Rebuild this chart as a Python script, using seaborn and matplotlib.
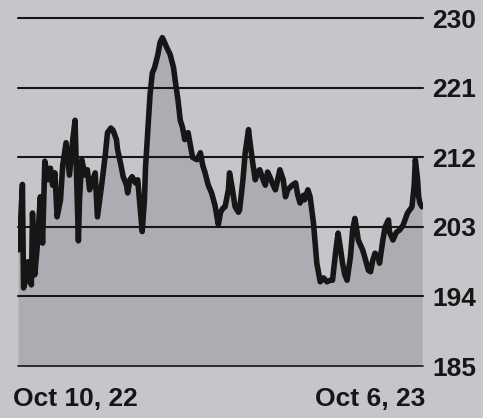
import numpy as np
import pandas as pd
import matplotlib
matplotlib.use("Agg")
import matplotlib.pyplot as plt
import matplotlib.transforms as mtransforms
import seaborn as sns

start_date = "2022-10-10"
day_offsets = [0, 2, 4, 5, 7, 9, 12, 13, 15, 17, 20, 22, 24, 27, 29, 31, 33, 35, 38, 40,
               43, 46, 49, 51, 54, 55, 57, 60, 62, 64, 67, 69, 71, 75, 78, 80, 83, 85, 88, 89,
               92, 94, 97, 98, 100, 102, 105, 107, 109, 111, 113, 114, 116, 118, 120, 122, 125, 127, 129, 130,
               133, 136, 139, 141, 143, 145, 147, 149, 152, 154, 156, 160, 163, 165, 167, 170, 173, 176, 179, 181,
               183, 185, 188, 189, 191, 194, 197, 198, 201, 203, 206, 207, 210, 212, 214, 216, 219, 221, 223, 225,
               228, 230, 232, 234, 237, 239, 241, 245, 248, 250, 252, 255, 256, 259, 261, 264, 267, 270, 273, 276,
               279, 281, 284, 286, 288, 290, 292, 294, 297, 299, 301, 303, 304, 307, 308, 311, 313, 315, 317, 319,
               322, 323, 326, 328, 331, 332, 335, 338, 341, 344, 348, 350, 352, 354, 355, 357, 358, 359, 361]
prices = [200.0, 202.6, 208.5, 195.1, 196.1, 198.5, 195.5, 204.8, 196.8, 200.0,
          206.9, 200.9, 211.5, 209.1, 210.6, 208.4, 210.0, 204.3, 206.5, 211.0,
          213.9, 209.7, 214.3, 216.8, 201.2, 206.5, 211.7, 209.7, 210.4, 207.8,
          209.1, 210.0, 204.3, 208.7, 212.3, 215.2, 215.8, 215.5, 214.3, 213.0,
          211.0, 209.5, 208.4, 207.4, 209.1, 209.5, 208.7, 209.1, 205.8, 202.4,
          206.5, 210.8, 215.5, 220.1, 222.9, 223.6, 225.3, 226.9, 227.5, 227.2,
          226.2, 225.3, 223.6, 221.4, 219.4, 216.8, 215.9, 214.3, 215.2, 213.6,
          212.0, 211.7, 212.6, 211.0, 210.1, 208.4, 207.4, 205.8, 203.3, 204.9,
          205.4, 205.6, 207.8, 210.0, 208.4, 205.6, 204.9, 205.2, 209.1, 212.6,
          215.6, 214.3, 211.0, 209.1, 210.1, 210.4, 209.1, 208.4, 210.1, 209.5,
          208.4, 207.8, 209.1, 210.4, 209.1, 206.9, 207.8, 208.4, 208.7, 207.1,
          206.1, 207.1, 206.5, 207.8, 206.9, 203.5, 198.3, 195.9, 196.4, 195.9,
          196.1, 196.1, 200.0, 202.2, 200.3, 198.3, 196.8, 196.1, 199.1, 202.6,
          204.1, 202.3, 201.3, 200.3, 200.0, 198.5, 197.4, 197.2, 198.7, 199.6,
          199.0, 198.3, 201.3, 203.0, 203.9, 202.3, 201.3, 202.3, 202.6, 203.2,
          204.8, 205.2, 205.6, 208.4, 211.7, 209.1, 206.9, 206.1, 205.6]
y_ticks = [230, 221, 212, 203, 194, 185]
x_tick_labels = ["Oct 10, 22", "Oct 6, 23"]

df = pd.DataFrame({
    "date": pd.Timestamp(start_date) + pd.to_timedelta(day_offsets, unit="D"),
    "price": prices,
})

bg = "#c5c5ca"
fill_c = "#acacb2"
ink = "#161616"

sns.set_theme(style="white")
plt.rcParams["font.family"] = ["Liberation Sans", "DejaVu Sans"]
plt.rcParams["font.weight"] = "bold"

fig = plt.figure(figsize=(4.83, 4.18), dpi=100, facecolor=bg)
W, H = 483, 418
ax = fig.add_axes([17.5 / W, 1 - 366 / H, (422.5 - 17.5) / W, (366 - 18.3) / H])
ax.set_facecolor(bg)

ax.fill_between(df["date"], df["price"], y_ticks[-1], color=fill_c, lw=0, zorder=1)
for v in y_ticks:
    ax.axhline(v, color=ink, lw=1.5 if v != y_ticks[-1] else 1.2, zorder=2, clip_on=False)
sns.lineplot(data=df, x="date", y="price", ax=ax, color=ink, lw=4.0, zorder=3,
             solid_joinstyle="round", solid_capstyle="round")

ax.set_xlim(df["date"].iloc[0] - pd.Timedelta(days=0.4), df["date"].iloc[-1] + pd.Timedelta(days=0.4))
ax.set_ylim(y_ticks[-1], y_ticks[0])
ax.set_xlabel("")
ax.set_ylabel("")
for s in ax.spines.values():
    s.set_visible(False)

ax.yaxis.tick_right()
ax.set_yticks(y_ticks)
ax.set_yticklabels([str(v) for v in y_ticks], fontweight="bold")
ax.tick_params(axis="y", length=0, pad=7.0, labelsize=19, labelcolor=ink)

ax.set_xticks([df["date"].iloc[0], df["date"].iloc[-1]])
ax.set_xticklabels(x_tick_labels, fontweight="bold")
ax.tick_params(axis="x", length=0, pad=15.0, labelsize=19, labelcolor=ink)
xl = ax.get_xticklabels()
xl[0].set_ha("left")
xl[1].set_ha("right")
xl[0].set_transform(xl[0].get_transform() + mtransforms.ScaledTranslation(-5 / 100, 0, fig.dpi_scale_trans))
xl[1].set_transform(xl[1].get_transform() + mtransforms.ScaledTranslation(3 / 100, 0, fig.dpi_scale_trans))
ax.grid(False)

fig.savefig("out.png", dpi=100, facecolor=bg)
